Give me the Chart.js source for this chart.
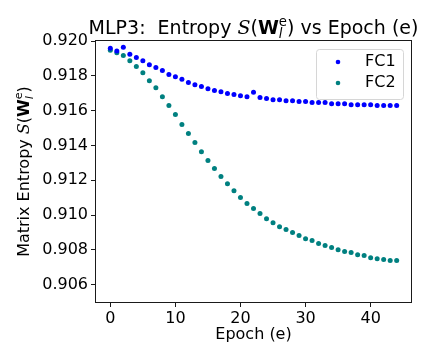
<!DOCTYPE html>
<html>
<head>
<meta charset="utf-8">
<script src="https://cdn.jsdelivr.net/npm/chart.js@4.4.0/dist/chart.umd.min.js"></script>
<style>
  html, body { margin: 0; padding: 0; background: #fff; }
</style>
</head>
<body>
<canvas id="myChart" width="432" height="360"></canvas>
<script>
// data
var epochs = [0, 1, 2, 3, 4, 5, 6, 7, 8, 9, 10, 11, 12, 13, 14, 15, 16, 17, 18, 19, 20, 21, 22,
              23, 24, 25, 26, 27, 28, 29, 30, 31, 32, 33, 34, 35, 36, 37, 38, 39, 40, 41, 42, 43, 44];
var fc1 = [0.91958, 0.91943, 0.91964, 0.91924, 0.91905, 0.91887, 0.91864, 0.91847, 0.91830, 0.91807,
           0.91795, 0.91780, 0.91761, 0.91749, 0.91738, 0.91726, 0.91715, 0.91709, 0.91698, 0.91692,
           0.91686, 0.91680, 0.91705, 0.91675, 0.91669, 0.91663, 0.91663, 0.91657, 0.91657, 0.91652,
           0.91652, 0.91646, 0.91646, 0.91646, 0.91640, 0.91640, 0.91640, 0.91634, 0.91634, 0.91634,
           0.91634, 0.91629, 0.91629, 0.91629, 0.91629];
var fc2 = [0.91947, 0.91933, 0.91916, 0.91887, 0.91853, 0.91818, 0.91772, 0.91732, 0.91680, 0.91629,
           0.91577, 0.91520, 0.91468, 0.91416, 0.91364, 0.91313, 0.91267, 0.91221, 0.91180, 0.91140,
           0.91100, 0.91066, 0.91037, 0.91008, 0.90979, 0.90956, 0.90933, 0.90916, 0.90899, 0.90882,
           0.90864, 0.90853, 0.90836, 0.90824, 0.90813, 0.90801, 0.90790, 0.90784, 0.90772, 0.90767,
           0.90755, 0.90749, 0.90744, 0.90738, 0.90738];
var seriesLabels = ["FC1", "FC2"];
var seriesColors = ["#0000ff", "#008080"];
var xTicks = [0, 10, 20, 30, 40];
var yTicks = [0.906, 0.908, 0.910, 0.912, 0.914, 0.916, 0.918, 0.920];

function toPoints(ys) {
  return epochs.map(function (e, i) { return {x: e, y: ys[i]}; });
}

// bits of text with math-like parts: S(W^e_l)
function mathParts(prefix, suffix) {
  var parts = [];
  if (prefix) parts.push({t: prefix});
  parts.push({t: "S", style: "italic", family: "DejaVu Serif"});
  parts.push({t: "("});
  parts.push({t: "W", weight: "bold"});
  parts.push({stack: [{t: "e", scale: 0.7, dy: -0.42}, {t: "l", scale: 0.7, style: "italic", dy: 0.22}]});
  parts.push({t: ")"});
  if (suffix) parts.push({t: suffix});
  return parts;
}

function fontFor(p, size) {
  var s = size * (p.scale || 1);
  return (p.style || "normal") + " " + (p.weight || "normal") + " " + s + "px " + (p.family || "'DejaVu Sans'");
}

function partsWidth(ctx, parts, size) {
  var w = 0;
  parts.forEach(function (p) {
    if (p.stack) {
      var m = 0;
      p.stack.forEach(function (q) { ctx.font = fontFor(q, size); m = Math.max(m, ctx.measureText(q.t).width); });
      w += m;
    } else {
      ctx.font = fontFor(p, size);
      w += ctx.measureText(p.t).width;
    }
  });
  return w;
}

function drawParts(ctx, parts, size, cx, y) {
  var x = cx - partsWidth(ctx, parts, size) / 2;
  ctx.textAlign = "left";
  ctx.textBaseline = "alphabetic";
  parts.forEach(function (p) {
    if (p.stack) {
      var m = 0;
      p.stack.forEach(function (q) {
        ctx.font = fontFor(q, size);
        ctx.fillText(q.t, x, y + (q.dy || 0) * size);
        m = Math.max(m, ctx.measureText(q.t).width);
      });
      x += m;
    } else {
      ctx.font = fontFor(p, size);
      ctx.fillText(p.t, x, y + (p.dy || 0) * size);
      x += ctx.measureText(p.t).width;
    }
  });
}

var decor = {
  id: "decor",
  afterDraw: function (chart) {
    var ctx = chart.ctx, a = chart.chartArea;
    ctx.save();
    // axes frame
    ctx.strokeStyle = "#1a1a1a";
    ctx.lineWidth = 1;
    ctx.strokeRect(a.left - 0.5, a.top - 0.5, a.right - a.left + 1, a.bottom - a.top + 1);

    // title
    ctx.fillStyle = "#000";
    drawParts(ctx, mathParts("MLP3:  Entropy ", " vs Epoch (e)"), 19, (a.left + a.right) / 2, 34);

    // y axis label
    ctx.save();
    ctx.translate(29, (a.top + a.bottom) / 2);
    ctx.rotate(-Math.PI / 2);
    drawParts(ctx, mathParts("Matrix Entropy ", ""), 16, 0, 0);
    ctx.restore();

    // legend
    var bw = 87, bh = 50;
    var bx = a.right - 8 - bw, by = a.top + 8;
    ctx.beginPath();
    ctx.roundRect(bx + 0.5, by + 0.5, bw, bh, 3);
    ctx.fillStyle = "rgba(255,255,255,0.8)";
    ctx.fill();
    ctx.strokeStyle = "#d6d6d6";
    ctx.stroke();
    ctx.font = "16px 'DejaVu Sans'";
    ctx.textAlign = "left";
    ctx.textBaseline = "middle";
    chart.data.datasets.forEach(function (ds, i) {
      var ry = by + 13 + i * 21;
      ctx.beginPath();
      ctx.arc(bx + 22, ry, 2.3, 0, Math.PI * 2);
      ctx.fillStyle = ds.backgroundColor;
      ctx.fill();
      ctx.fillStyle = "#000";
      ctx.fillText(ds.label, bx + 49, ry);
    });
    ctx.restore();
  }
};

Chart.defaults.color = "#000";
Chart.defaults.font.family = "'DejaVu Sans'";
Chart.defaults.font.size = 16;

var ctx = document.getElementById("myChart").getContext("2d");
var myChart = new Chart(ctx, {
  type: "scatter",
  data: {
    datasets: seriesLabels.map(function (lab, i) {
      return {
        label: lab,
        data: toPoints(i === 0 ? fc1 : fc2),
        backgroundColor: seriesColors[i],
        borderWidth: 0,
        pointRadius: 2.5,
        pointHoverRadius: 2.5
      };
    })
  },
  options: {
    responsive: false,
    animation: false,
    devicePixelRatio: 1,
    layout: { padding: { top: 41, right: 21, left: 0, bottom: 0 } },
    plugins: {
      legend: { display: false },
      title: { display: false },
      tooltip: { enabled: false }
    },
    scales: {
      x: {
        type: "linear",
        min: -2.2,
        max: 46.2,
        afterBuildTicks: function (s) { s.ticks = xTicks.map(function (v) { return {value: v}; }); },
        afterFit: function (s) { s.height = 58; },
        ticks: { padding: 2, maxRotation: 0, callback: function (v) { return String(v); } },
        grid: { drawOnChartArea: false, drawTicks: true, tickLength: 5, color: "#1a1a1a" },
        border: { display: false },
        title: { display: true, text: "Epoch (e)", font: { size: 16 }, padding: { top: 0, bottom: 16 } }
      },
      y: {
        type: "linear",
        min: 0.905,
        max: 0.920,
        afterBuildTicks: function (s) { s.ticks = yTicks.map(function (v) { return {value: v}; }); },
        afterFit: function (s) { s.width = 96; },
        ticks: { padding: 3, callback: function (v) { return v.toFixed(3); } },
        grid: { drawOnChartArea: false, drawTicks: true, tickLength: 5, color: "#1a1a1a" },
        border: { display: false }
      }
    }
  },
  plugins: [decor]
});
</script>
</body>
</html>
